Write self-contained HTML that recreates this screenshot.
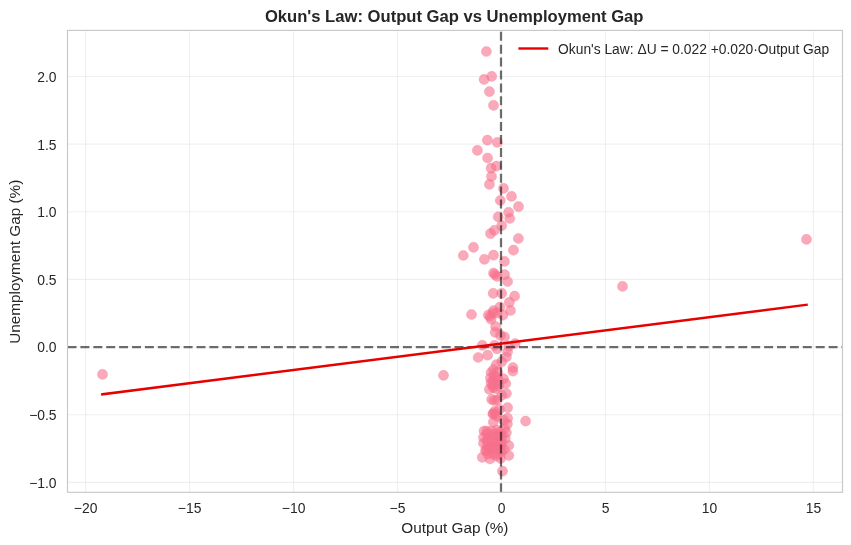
<!DOCTYPE html>
<html><head><meta charset="utf-8"><title>Okun's Law</title>
<style>
html,body{margin:0;padding:0;background:#fff;}
svg{display:block}
text{font-family:"Liberation Sans",sans-serif;fill:#262626}
</style></head><body>
<svg width="851" height="545" viewBox="0 0 851 545">
<rect width="851" height="545" fill="#ffffff"/>
<g stroke="#cccccc" stroke-opacity="0.3" stroke-width="1.1" fill="none"><line x1="85.62" y1="30.4" x2="85.62" y2="492.3"/><line x1="189.59" y1="30.4" x2="189.59" y2="492.3"/><line x1="293.56" y1="30.4" x2="293.56" y2="492.3"/><line x1="397.53" y1="30.4" x2="397.53" y2="492.3"/><line x1="501.50" y1="30.4" x2="501.50" y2="492.3"/><line x1="605.47" y1="30.4" x2="605.47" y2="492.3"/><line x1="709.44" y1="30.4" x2="709.44" y2="492.3"/><line x1="813.41" y1="30.4" x2="813.41" y2="492.3"/><line x1="67.5" y1="482.35" x2="842.5" y2="482.35"/><line x1="67.5" y1="414.70" x2="842.5" y2="414.70"/><line x1="67.5" y1="347.05" x2="842.5" y2="347.05"/><line x1="67.5" y1="279.40" x2="842.5" y2="279.40"/><line x1="67.5" y1="211.75" x2="842.5" y2="211.75"/><line x1="67.5" y1="144.10" x2="842.5" y2="144.10"/><line x1="67.5" y1="76.45" x2="842.5" y2="76.45"/></g>
<g fill="#f76f8c" fill-opacity="0.6" stroke="#f76f8c" stroke-opacity="0.3" stroke-width="0.8"><circle cx="486.4" cy="51.5" r="5.1"/><circle cx="491.7" cy="76.4" r="5.1"/><circle cx="484.1" cy="79.4" r="5.1"/><circle cx="489.4" cy="91.6" r="5.1"/><circle cx="493.5" cy="105.3" r="5.1"/><circle cx="487.4" cy="140.2" r="5.1"/><circle cx="497.4" cy="142.4" r="5.1"/><circle cx="477.4" cy="150.4" r="5.1"/><circle cx="487.6" cy="158.0" r="5.1"/><circle cx="496.4" cy="166.2" r="5.1"/><circle cx="491.1" cy="168.2" r="5.1"/><circle cx="491.5" cy="176.4" r="5.1"/><circle cx="489.4" cy="184.4" r="5.1"/><circle cx="503.5" cy="188.4" r="5.1"/><circle cx="511.5" cy="196.4" r="5.1"/><circle cx="500.3" cy="200.5" r="5.1"/><circle cx="518.5" cy="206.6" r="5.1"/><circle cx="508.6" cy="212.3" r="5.1"/><circle cx="498.2" cy="216.8" r="5.1"/><circle cx="509.7" cy="218.5" r="5.1"/><circle cx="501.7" cy="225.6" r="5.1"/><circle cx="494.4" cy="230.3" r="5.1"/><circle cx="490.5" cy="233.6" r="5.1"/><circle cx="518.4" cy="238.5" r="5.1"/><circle cx="473.5" cy="247.3" r="5.1"/><circle cx="513.5" cy="250.2" r="5.1"/><circle cx="463.3" cy="255.5" r="5.1"/><circle cx="493.5" cy="255.2" r="5.1"/><circle cx="484.4" cy="259.3" r="5.1"/><circle cx="504.4" cy="261.4" r="5.1"/><circle cx="493.5" cy="273.0" r="5.1"/><circle cx="497.0" cy="276.5" r="5.1"/><circle cx="504.6" cy="274.7" r="5.1"/><circle cx="507.6" cy="281.5" r="5.1"/><circle cx="493.2" cy="293.3" r="5.1"/><circle cx="501.7" cy="293.3" r="5.1"/><circle cx="514.6" cy="296.2" r="5.1"/><circle cx="509.3" cy="302.3" r="5.1"/><circle cx="499.9" cy="307.0" r="5.1"/><circle cx="510.5" cy="310.5" r="5.1"/><circle cx="471.5" cy="314.5" r="5.1"/><circle cx="493.5" cy="310.5" r="5.1"/><circle cx="488.3" cy="315.0" r="5.1"/><circle cx="502.9" cy="315.2" r="5.1"/><circle cx="491.1" cy="319.2" r="5.1"/><circle cx="497.0" cy="312.9" r="5.1"/><circle cx="495.6" cy="326.5" r="5.1"/><circle cx="495.2" cy="332.3" r="5.1"/><circle cx="504.6" cy="337.0" r="5.1"/><circle cx="500.5" cy="335.3" r="5.1"/><circle cx="482.3" cy="345.3" r="5.1"/><circle cx="494.4" cy="345.3" r="5.1"/><circle cx="515.2" cy="343.5" r="5.1"/><circle cx="478.2" cy="357.5" r="5.1"/><circle cx="487.6" cy="355.2" r="5.1"/><circle cx="497.0" cy="348.8" r="5.1"/><circle cx="507.6" cy="351.7" r="5.1"/><circle cx="506.4" cy="357.0" r="5.1"/><circle cx="496.4" cy="364.6" r="5.1"/><circle cx="512.9" cy="367.6" r="5.1"/><circle cx="491.1" cy="372.5" r="5.1"/><circle cx="501.7" cy="361.7" r="5.1"/><circle cx="508.8" cy="346.4" r="5.1"/><circle cx="512.9" cy="371.2" r="5.1"/><circle cx="490.5" cy="378.2" r="5.1"/><circle cx="497.0" cy="377.6" r="5.1"/><circle cx="503.5" cy="378.8" r="5.1"/><circle cx="505.8" cy="383.5" r="5.1"/><circle cx="495.2" cy="383.5" r="5.1"/><circle cx="489.4" cy="389.4" r="5.1"/><circle cx="493.5" cy="387.6" r="5.1"/><circle cx="506.4" cy="393.5" r="5.1"/><circle cx="501.7" cy="395.3" r="5.1"/><circle cx="491.7" cy="399.4" r="5.1"/><circle cx="497.0" cy="400.0" r="5.1"/><circle cx="507.6" cy="407.6" r="5.1"/><circle cx="499.4" cy="409.4" r="5.1"/><circle cx="492.9" cy="414.0" r="5.1"/><circle cx="497.0" cy="416.4" r="5.1"/><circle cx="507.6" cy="418.2" r="5.1"/><circle cx="503.5" cy="420.0" r="5.1"/><circle cx="525.6" cy="421.1" r="5.1"/><circle cx="493.3" cy="422.0" r="5.1"/><circle cx="502.5" cy="471.2" r="5.1"/><circle cx="482.3" cy="457.3" r="5.1"/><circle cx="490.0" cy="459.0" r="5.1"/><circle cx="500.5" cy="458.5" r="5.1"/><circle cx="508.8" cy="455.5" r="5.1"/><circle cx="508.8" cy="445.5" r="5.1"/><circle cx="484.0" cy="431.0" r="5.1"/><circle cx="483.5" cy="437.3" r="5.1"/><circle cx="483.5" cy="443.2" r="5.1"/><circle cx="486.4" cy="450.2" r="5.1"/><circle cx="506.4" cy="432.6" r="5.1"/><circle cx="505.2" cy="438.5" r="5.1"/><circle cx="102.5" cy="374.4" r="5.1"/><circle cx="443.5" cy="375.3" r="5.1"/><circle cx="622.5" cy="286.4" r="5.1"/><circle cx="806.5" cy="239.4" r="5.1"/><circle cx="486.9" cy="431.1" r="5.1"/><circle cx="491.7" cy="431.2" r="5.1"/><circle cx="496.8" cy="430.0" r="5.1"/><circle cx="499.8" cy="431.8" r="5.1"/><circle cx="486.9" cy="434.1" r="5.1"/><circle cx="493.2" cy="434.6" r="5.1"/><circle cx="497.3" cy="434.6" r="5.1"/><circle cx="501.3" cy="433.9" r="5.1"/><circle cx="487.8" cy="439.3" r="5.1"/><circle cx="492.1" cy="439.0" r="5.1"/><circle cx="496.9" cy="437.4" r="5.1"/><circle cx="501.6" cy="438.6" r="5.1"/><circle cx="487.0" cy="441.0" r="5.1"/><circle cx="492.9" cy="442.0" r="5.1"/><circle cx="497.0" cy="443.0" r="5.1"/><circle cx="501.5" cy="443.1" r="5.1"/><circle cx="487.2" cy="446.5" r="5.1"/><circle cx="491.9" cy="446.8" r="5.1"/><circle cx="497.4" cy="444.8" r="5.1"/><circle cx="500.1" cy="445.1" r="5.1"/><circle cx="488.6" cy="449.3" r="5.1"/><circle cx="492.3" cy="449.0" r="5.1"/><circle cx="496.5" cy="449.2" r="5.1"/><circle cx="500.6" cy="449.7" r="5.1"/><circle cx="487.7" cy="454.0" r="5.1"/><circle cx="492.4" cy="454.0" r="5.1"/><circle cx="497.4" cy="454.2" r="5.1"/><circle cx="501.4" cy="452.2" r="5.1"/><circle cx="494.8" cy="274.5" r="5.1"/><circle cx="490.0" cy="316.5" r="5.1"/><circle cx="493.0" cy="313.0" r="5.1"/><circle cx="493.5" cy="369.5" r="5.1"/><circle cx="494.0" cy="375.0" r="5.1"/><circle cx="493.0" cy="381.0" r="5.1"/><circle cx="492.5" cy="385.5" r="5.1"/><circle cx="497.5" cy="372.0" r="5.1"/><circle cx="498.5" cy="380.0" r="5.1"/><circle cx="499.0" cy="386.0" r="5.1"/><circle cx="491.0" cy="383.0" r="5.1"/><circle cx="496.5" cy="389.0" r="5.1"/><circle cx="494.0" cy="400.5" r="5.1"/><circle cx="494.7" cy="411.3" r="5.1"/><circle cx="495.5" cy="414.5" r="5.1"/><circle cx="493.3" cy="413.5" r="5.1"/><circle cx="507.4" cy="424.1" r="5.1"/><circle cx="485.5" cy="450.6" r="5.1"/><circle cx="504.5" cy="428.5" r="5.1"/><circle cx="504.0" cy="449.5" r="5.1"/><circle cx="496.0" cy="456.0" r="5.1"/></g>
<line x1="67.5" y1="347.05" x2="842.5" y2="347.05" stroke="#000" stroke-opacity="0.57" stroke-width="2.25" stroke-dasharray="9 3.9"/>
<line x1="501.0" y1="492.3" x2="501.0" y2="30.4" stroke="#000" stroke-opacity="0.57" stroke-width="2.25" stroke-dasharray="9 3.9"/>
<line x1="102.3" y1="394.3" x2="806.6" y2="304.8" stroke="#e60000" stroke-width="2.4" stroke-linecap="square"/>
<rect x="67.5" y="30.4" width="775.0" height="461.90000000000003" fill="none" stroke="#c8c8c8" stroke-width="1.15"/>
<g font-size="13.89px"><text x="85.6" y="513.0" text-anchor="middle">−20</text><text x="189.6" y="513.0" text-anchor="middle">−15</text><text x="293.6" y="513.0" text-anchor="middle">−10</text><text x="397.5" y="513.0" text-anchor="middle">−5</text><text x="501.5" y="513.0" text-anchor="middle">0</text><text x="605.5" y="513.0" text-anchor="middle">5</text><text x="709.4" y="513.0" text-anchor="middle">10</text><text x="813.4" y="513.0" text-anchor="middle">15</text><text x="56.6" y="487.8" text-anchor="end">−1.0</text><text x="56.6" y="420.1" text-anchor="end">−0.5</text><text x="56.6" y="352.4" text-anchor="end">0.0</text><text x="56.6" y="284.8" text-anchor="end">0.5</text><text x="56.6" y="217.2" text-anchor="end">1.0</text><text x="56.6" y="149.5" text-anchor="end">1.5</text><text x="56.6" y="81.8" text-anchor="end">2.0</text></g>
<text x="454.2" y="21.9" text-anchor="middle" font-size="16.63px" font-weight="bold">Okun's Law: Output Gap vs Unemployment Gap</text>
<text x="454.9" y="532.8" text-anchor="middle" font-size="15.3px">Output Gap (%)</text>
<text transform="translate(19.5,261.8) rotate(-90)" text-anchor="middle" font-size="15.3px">Unemployment Gap (%)</text>
<line x1="519.6" y1="48.5" x2="547.1" y2="48.5" stroke="#e60000" stroke-width="2.4" stroke-linecap="square"/>
<text x="558.1" y="54.0" font-size="13.81px">Okun's Law: ΔU = 0.022 +0.020·Output Gap</text>
</svg>
</body></html>
